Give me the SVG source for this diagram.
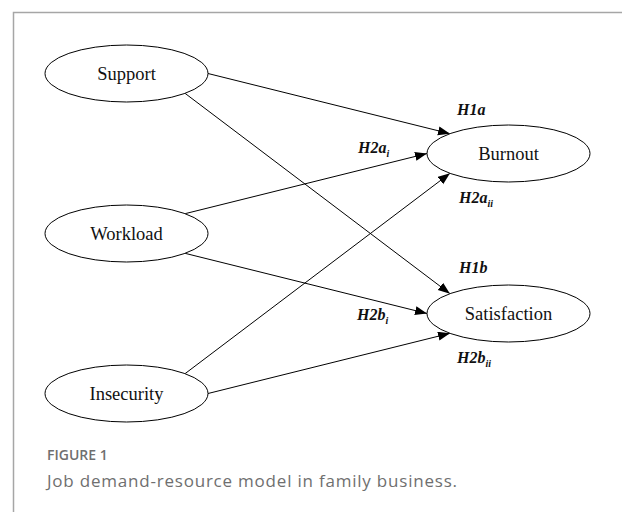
<svg xmlns="http://www.w3.org/2000/svg" width="622" height="512" viewBox="0 0 622 512">
  <style>
    .frame { stroke: #a6a6a6; stroke-width: 1.5; fill: none; }
    .node ellipse { fill: #ffffff; stroke: #000000; stroke-width: 1; }
    .node text { font-family: "Liberation Serif", "Times New Roman", serif; font-size: 18.5px; fill: #111111; text-anchor: middle; }
    .edges line { stroke: #000000; stroke-width: 1; marker-end: url(#arrow); }
    .hyp { font-family: "Liberation Serif", "Times New Roman", serif; font-size: 16px; font-weight: bold; font-style: italic; fill: #111111; }
    .hyp tspan.sub { font-size: 10px; }
    .fig-label { font-family: "Open Sans", "Noto Sans", sans-serif; font-size: 14px; font-weight: 600; fill: #6f6f6f; }
    .fig-caption { font-family: "Open Sans", "Noto Sans", sans-serif; font-size: 17px; fill: #6f6f6f; }
  </style>
  <defs>
    <marker id="arrow" markerUnits="userSpaceOnUse" markerWidth="13" markerHeight="10" refX="12" refY="4.5" orient="auto">
      <path d="M0,0 L12,4.5 L0,9 z" fill="#000000"/>
    </marker>
  </defs>

  <rect width="622" height="512" fill="#ffffff"/>
  <!-- panel frame: top and left rules -->
  <path class="frame" d="M13.5,512 L13.5,12.5 L622,12.5"/>

  <!-- connectors -->
  <g id="edges" class="edges">
    <line x1="208" y1="73.5" x2="450" y2="133.7"/>
    <line x1="185" y1="93.3" x2="450" y2="293.7"/>
    <line x1="185" y1="213.7" x2="427" y2="153.5"/>
    <line x1="185" y1="253.3" x2="427" y2="313.5"/>
    <line x1="185" y1="373.7" x2="450" y2="173.3"/>
    <line x1="208" y1="393.5" x2="450" y2="333.3"/>
  </g>

  <!-- nodes -->
  <g id="support" class="node">
    <ellipse cx="126.5" cy="73.5" rx="81.5" ry="28.5"/>
    <text x="126.5" y="80">Support</text>
  </g>
  <g id="workload" class="node">
    <ellipse cx="126.5" cy="233.5" rx="81.5" ry="28.5"/>
    <text x="126.5" y="240">Workload</text>
  </g>
  <g id="insecurity" class="node">
    <ellipse cx="126.5" cy="393.5" rx="81.5" ry="28.5"/>
    <text x="126.5" y="400">Insecurity</text>
  </g>
  <g id="burnout" class="node">
    <ellipse cx="508.5" cy="153.5" rx="81.5" ry="28.5"/>
    <text x="508.5" y="160">Burnout</text>
  </g>
  <g id="satisfaction" class="node">
    <ellipse cx="508.5" cy="313.5" rx="81.5" ry="28.5"/>
    <text x="508.5" y="320">Satisfaction</text>
  </g>

  <!-- hypothesis labels -->
  <g id="labels">
    <text class="hyp" x="457" y="115">H1a</text>
    <text class="hyp" x="358" y="153">H2a<tspan class="sub" dy="4">i</tspan></text>
    <text class="hyp" x="459" y="203">H2a<tspan class="sub" dy="4">ii</tspan></text>
    <text class="hyp" x="459" y="273">H1b</text>
    <text class="hyp" x="357" y="320">H2b<tspan class="sub" dy="4">i</tspan></text>
    <text class="hyp" x="457" y="363">H2b<tspan class="sub" dy="4">ii</tspan></text>
  </g>

  <!-- figure caption -->
  <text class="fig-label" x="47" y="460">FIGURE 1</text>
  <text class="fig-caption" x="47" y="487" textLength="410" lengthAdjust="spacing">Job demand-resource model in family business.</text>
</svg>
